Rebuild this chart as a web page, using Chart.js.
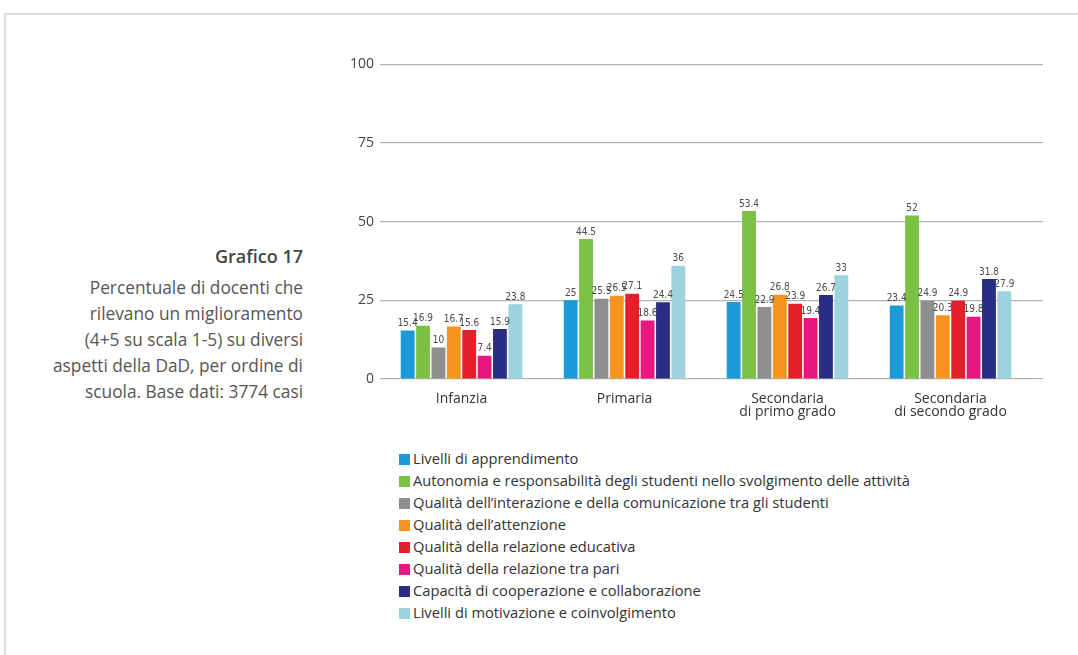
<!DOCTYPE html>
<html>
<head>
<meta charset="utf-8">
<script src="https://cdn.jsdelivr.net/npm/chart.js@4"></script>
<style>
  body { margin: 0; background: #fff; width: 1078px; height: 655px; overflow: hidden; font-family: "Open Sans", sans-serif; }
  #frame { position: absolute; left: 4px; top: 13px; width: 1100px; height: 700px; border-top: 2px solid #ddd; border-left: 2px solid #ddd; }
  #title { position: absolute; right: 775px; top: 243px; text-align: right; color: #555; font-size: 17.3px; line-height: 26px; }
  #title b { display: inline-block; color: #444; font-size: 18px; font-weight: 600; margin-bottom: 6px; }
  #wrap { position: absolute; left: 320px; top: 50px; width: 740px; height: 374px; }
  #legend { position: absolute; left: 399px; top: 447px; color: #333; font-size: 14.7px; }
  #legend div { height: 22px; line-height: 22px; white-space: nowrap; }
  #legend span { display: inline-block; width: 11px; height: 11px; margin-right: 3px; vertical-align: -1px; }
</style>
</head>
<body>
<div id="frame"></div>
<div id="title"><b>Grafico 17</b><br>Percentuale di docenti che<br>rilevano un miglioramento<br>(4+5 su scala 1-5) su diversi<br>aspetti della DaD, per ordine di<br>scuola. Base dati: 3774 casi</div>
<div id="wrap"><canvas id="chart"></canvas></div>
<div id="legend"></div>
<script>
// categorie (ordine di scuola)
const schools = ['Infanzia', 'Primaria', ['Secondaria', 'di primo grado'], ['Secondaria', 'di secondo grado']]

// aspetti e colori
const aspects = [
  'Livelli di apprendimento',
  'Autonomia e responsabilità degli studenti nello svolgimento delle attività',
  'Qualità dell\u2019interazione e della comunicazione tra gli studenti',
  'Qualità dell\u2019attenzione',
  'Qualità della relazione educativa',
  'Qualità della relazione tra pari',
  'Capacità di cooperazione e collaborazione',
  'Livelli di motivazione e coinvolgimento'
]
const colors = ['#1b9ad7', '#7bc143', '#8d8e90', '#f7941e', '#e3202a', '#e5197f', '#2a2d84', '#9dd3de']

// valori per aspetto: Infanzia, Primaria, Sec. I grado, Sec. II grado
const apprendimento = [15.4, 25, 24.5, 23.4]
const autonomia = [16.9, 44.5, 53.4, 52]
const interazione = [10, 25.5, 22.9, 24.9]
const attenzione = [16.7, 26.5, 26.8, 20.3]
const relEducativa = [15.6, 27.1, 23.9, 24.9]
const relPari = [7.4, 18.6, 19.4, 19.8]
const cooperazione = [15.9, 24.4, 26.7, 31.8]
const motivazione = [23.8, 36, 33, 27.9]

const series = [apprendimento, autonomia, interazione, attenzione, relEducativa, relPari, cooperazione, motivazione]

// y ticks
const yTicks = [0, 25, 50, 75, 100]

// value labels above each bar
const valueLabels = {
  id: 'valueLabels',
  afterDatasetsDraw(chart) {
    const ctx = chart.ctx
    ctx.save()
    ctx.font = '10px "DejaVu Sans Condensed", sans-serif'
    ctx.fillStyle = '#4a4a4a'
    ctx.textAlign = 'center'
    ctx.textBaseline = 'bottom'
    chart.data.datasets.forEach(function (ds, i) {
      chart.getDatasetMeta(i).data.forEach(function (bar, j) {
        ctx.fillText(String(ds.data[j]), bar.x, bar.y - 2)
      })
    })
    ctx.restore()
  }
}

const gridColor = '#b3b3b3'

const chart = new Chart(document.getElementById('chart'), {
  type: 'bar',
  data: {
    labels: schools,
    datasets: aspects.map(function (a, i) {
      return { label: a, data: series[i], backgroundColor: colors[i], barPercentage: 0.9, categoryPercentage: 0.755 }
    })
  },
  options: {
    responsive: true,
    maintainAspectRatio: false,
    animation: false,
    layout: { padding: { top: 9, right: 17, left: 0, bottom: 0 } },
    plugins: { legend: { display: false }, tooltip: { enabled: false } },
    scales: {
      x: {
        grid: { display: false },
        border: { display: false },
        ticks: { color: '#333', padding: 6, font: { size: 14, family: 'Open Sans', lineHeight: 0.9 } },
        afterFit: function (s) { s.height = 45 }
      },
      y: {
        min: 0,
        max: 100,
        afterBuildTicks: function (s) { s.ticks = yTicks.map(function (v) { return { value: v } }) },
        grid: { color: gridColor, lineWidth: 1.2, drawTicks: false },
        border: { display: false },
        ticks: { color: '#444', padding: 6, font: { size: 14, family: 'Open Sans' } },
        afterFit: function (s) { s.width = 60 }
      },
      // gridlines continue a little past the last group on the right
      y2: {
        position: 'right',
        min: 0,
        max: 100,
        afterBuildTicks: function (s) { s.ticks = yTicks.map(function (v) { return { value: v } }) },
        grid: { color: gridColor, lineWidth: 1.2, drawOnChartArea: false, drawTicks: true, tickLength: 11 },
        border: { display: false },
        ticks: { display: false },
        afterFit: function (s) { s.width = 11 }
      }
    }
  },
  plugins: [valueLabels]
})

// legenda a colonna
const legend = document.getElementById('legend')
aspects.forEach(function (a, i) {
  const row = document.createElement('div')
  row.innerHTML = '<span style="background:' + colors[i] + '"></span>' + a
  legend.appendChild(row)
})
</script>
</body>
</html>
